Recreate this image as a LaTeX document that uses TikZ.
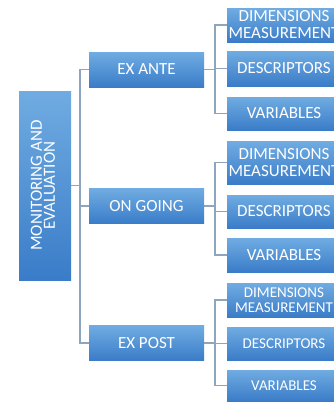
\documentclass[tikz,border=0pt]{standalone}
\usepackage{fontspec}
\setmainfont{Carlito}
\usepackage{graphicx}
\definecolor{boxtop}{RGB}{112,172,226}
\definecolor{boxbot}{RGB}{58,124,200}
\definecolor{conncol}{RGB}{141,165,191}
\tikzset{
  box/.style={rectangle, top color=boxtop, bottom color=boxbot, draw=none,
    text=white, inner sep=0pt, align=center, font=\fontsize{17}{17}\selectfont},
  midbox/.style={box, minimum width=115pt, minimum height=35pt},
  rbox/.style={box, minimum width=114pt, minimum height=34pt},
  smallfont/.style={font=\fontsize{15}{15}\selectfont},
  conn/.style={draw=conncol, line width=1.4pt}
}
\begin{document}
\begin{tikzpicture}[x=1pt,y=1pt]
\useasboundingbox (0,0) rectangle (334,-402);
\clip (0,0) rectangle (334,-402);
\fill[white] (0,0) rectangle (334,-402);
% root
\node[box, minimum width=52pt, minimum height=189pt] (root) at (45,-185.5)
  {\rotatebox{90}{\begin{tabular}{@{}c@{}}MONITORING AND\\[-4pt]EVALUATION\end{tabular}}};
% middle column
\node[midbox] (exante) at (146.5,-69.5) {EX ANTE};
\node[midbox] (ongoing) at (146.5,-206) {ON GOING};
\node[midbox] (expost) at (146.5,-343) {EX POST};
% right column, top group
\node[rbox] (dimA) at (284,-25) {DIMENSIONS\\MEASUREMENT};
\node[rbox, minimum height=35pt] (desA) at (284,-68.5) {DESCRIPTORS};
\node[rbox, minimum height=33pt] (varA) at (284,-113.5) {VARIABLES};
% middle group
\node[rbox, minimum height=43pt] (dimB) at (284,-162.5) {DIMENSIONS\\MEASUREMENT};
\node[rbox, minimum height=33pt] (desB) at (284,-211.5) {DESCRIPTORS};
\node[rbox] (varB) at (284,-255) {VARIABLES};
% bottom group
\node[rbox, smallfont] (dimC) at (284,-300) {DIMENSIONS\\MEASUREMENT};
\node[rbox, smallfont, minimum height=33pt] (desC) at (284,-343.5) {DESCRIPTORS};
\node[rbox, smallfont, minimum height=31pt] (varC) at (284,-385.5) {VARIABLES};
% connectors
\coordinate (trunk) at (80,-185.5);
\draw[conn] (root.east) -- (trunk);
\draw[conn] (exante.west) -- ++(-9,0) |- (expost.west);
\draw[conn] (ongoing.west) -- ++(-9,0);
\draw[conn] (exante.east) -- ++(11,0);
\draw[conn] (dimA.west) -- ++(-12,0) |- (varA.west);
\draw[conn] (desA.west) -- ++(-12,0);
\draw[conn] (ongoing.east) -- ++(11,0);
\draw[conn] (dimB.west) -- ++(-12,0) |- (varB.west);
\draw[conn] (desB.west) -- ++(-12,0);
\draw[conn] (expost.east) -- ++(11,0);
\draw[conn] (dimC.west) -- ++(-12,0) |- (varC.west);
\draw[conn] (desC.west) -- ++(-12,0);
\end{tikzpicture}
\end{document}
